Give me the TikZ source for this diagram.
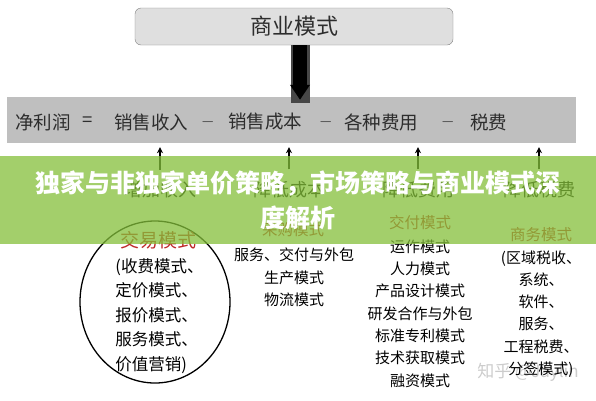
\documentclass[tikz,border=0pt]{standalone}
\usepackage{fontspec}
\setmainfont{Noto Sans CJK SC}
\usepackage{tikz}
\usetikzlibrary{calc,arrows.meta,shapes.geometric}
\usepackage{xcolor}
\definecolor{bannergreen}{RGB}{132,191,58}
\definecolor{modered}{RGB}{190,40,40}
\definecolor{inkgray}{RGB}{45,45,45}

\begin{document}
\begin{tikzpicture}[
  x=1pt, y=-1pt,
  %every node/.style={inner sep=0},
  ]
  \tikzstyle{top box}=[draw=gray,fill=gray!25,rounded corners=6,minimum width=318,minimum height=37,text=inkgray,font=\fontsize{22}{22}\selectfont]
  \tikzstyle{profit bar}=[fill=gray!50,minimum width=569,minimum height=46]
  \tikzstyle{term}=[inner sep=0,anchor=west,text=inkgray,font=\fontsize{18.5}{18.5}\selectfont]
  \tikzstyle{lever}=[inner sep=0,font=\fontsize{18}{18}\selectfont]
  \tikzstyle{up arrow}=[-{Stealth[length=6,width=6]},line width=1.2,shorten <=12,shorten >=4]
  \tikzstyle{mode title}=[inner sep=0,text=modered,font=\fontsize{15.5}{15.5}\selectfont]
  \tikzstyle{mode list}=[inner sep=0,align=center,font=\fontsize{15}{22.3}\selectfont]
  \tikzstyle{banner}=[fill=bannergreen,fill opacity=0.75,text opacity=1,text=white,minimum width=596,minimum height=88,inner sep=0,align=center,font=\bfseries\fontsize{25}{35}\selectfont]
  \useasboundingbox (0,0) rectangle (596,400);

  \node[top box] (biz) at (294,26.5) {商业模式};
  \node[profit bar] (profit) at (291.5,120) {};
  \node[term] (np) at (15,122) {净利润};
  \node[term] (eq) at (82,122) {=};
  \node[term] (rev) at (114,122) {销售收入};
  \node[term] (m1) at (201,122) {$-$};
  \node[term] (cost) at (228,122) {销售成本};
  \node[term] (m2) at (319,122) {$-$};
  \node[term] (fee) at (344,122) {各种费用};
  \node[term] (m3) at (441,122) {$-$};
  \node[term] (tax) at (470,122) {税费};

  % thick arrow from the top box down to the bar
  \coordinate (shaft) at ($(biz.south)+(6,0)$);
  \fill[black!72] ($(shaft)+(-9.5,0)$) rectangle ($(shaft |- profit.north)+(9.5,6)$);
  \draw[line width=14,-{Triangle[length=15,width=19]}] (shaft) -- ($(shaft |- profit.north)+(0,3)$);

  \node[lever] (inc) at (160,190) {增加收入};
  \node[lever] (lowcost) at (289,190) {降低成本};
  \node[lever] (lowfee) at (418,190) {降低费用};
  \node[lever] (lowtax) at (539,190) {降低税费};
  \draw[up arrow] (inc.north) -- (inc.north |- profit.south);
  \draw[up arrow] (lowcost.north) -- (lowcost.north |- profit.south);
  \draw[up arrow] (lowfee.north) -- (lowfee.north |- profit.south);
  \draw[up arrow] (lowtax.north) -- (lowtax.north |- profit.south);

  \node[draw,ellipse,line width=1.3,minimum width=150,minimum height=162] (trade) at (155,302) {};
  \node[mode title,font=\fontsize{19}{19}\selectfont] (tradetitle) at (158,240) {交易模式};
  \node[inner sep=0,align=left,font=\fontsize{16.5}{24.5}\selectfont] (tradelist) at (159.5,316)
    {(收费模式、\\定价模式、\\报价模式、\\服务模式、\\价值营销)};

  \node[mode title] (buytitle) at (293,230) {采购模式};
  \node[mode list] (buylist) at (294,277.5) {服务、交付与外包\\生产模式\\物流模式};

  \node[mode title] (deliveryt) at (420,223) {交付模式};
  \node[mode list] (deliverylist) at (420,313.5)
    {运作模式\\人力模式\\产品设计模式\\研发合作与外包\\标准专利模式\\技术获取模式\\融资模式};

  \node[text=gray!40,font=\fontsize{17}{17}\selectfont] (mark) at (528,372) {知乎 @Jaylin};
  \node[mode title] (commtitle) at (541,235) {商务模式};
  \node[mode list] (commlist) at (541,314)
    {(区域税收、\\系统、\\软件、\\服务、\\工程税费、\\分签模式)};

  \node[banner] (head) at (298,200) {独家与非独家单价策略，市场策略与商业模式深\\度解析};
\end{tikzpicture}
\end{document}
